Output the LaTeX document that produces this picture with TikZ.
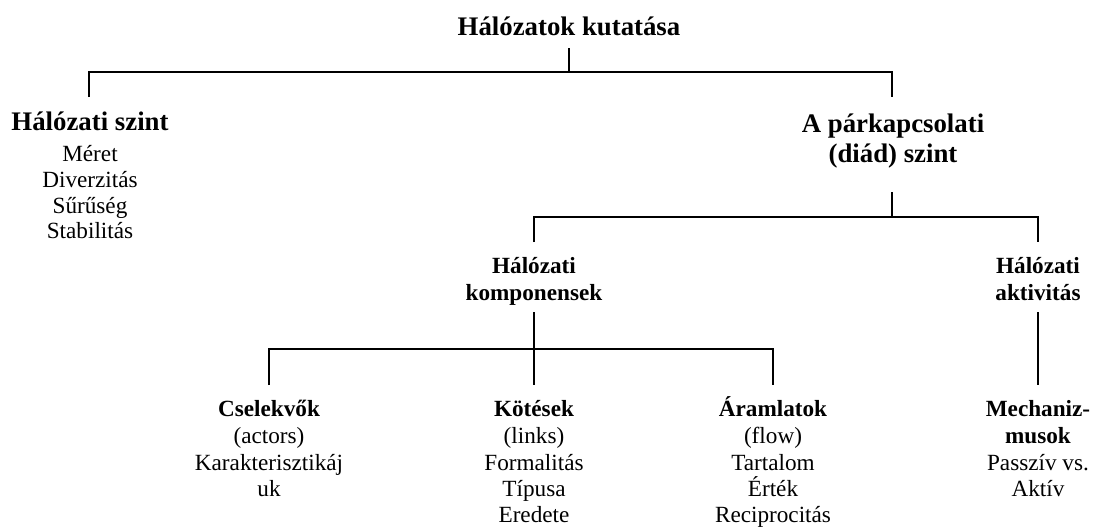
\documentclass[tikz,border=0pt]{standalone}
\usepackage{fontspec}
\setmainfont{Liberation Serif}
\begin{document}
\begin{tikzpicture}[x=1pt,y=-1pt,
  big/.style={font=\fontsize{26.8}{30}\selectfont\bfseries, anchor=base, inner sep=0pt},
  hd/.style={font=\fontsize{23.2}{26.5}\selectfont\bfseries, anchor=base, inner sep=0pt},
  it/.style={font=\fontsize{23.2}{26.5}\selectfont, anchor=base, inner sep=0pt},
  conn/.style={line width=1.8pt, line cap=butt}]
\useasboundingbox (0,0) rectangle (1095,530);
% Level 0
\node[big] (title) at (569,35) {Hálózatok kutatása};
% Level 1 left
\node[big] (hsz) at (90,130) {Hálózati szint};
\node[it] (meret) at (90,161) {Méret};
\node[it] (div) at (90,187) {Diverzitás};
\node[it] (sur) at (90,213) {Sűrűség};
\node[it] (stab) at (90,238) {Stabilitás};
% Level 1 right
\node[big] (pk1) at (893,132) {A párkapcsolati};
\node[big] (pk2) at (893,162) {(diád) szint};
% Level 2
\node[hd] (hk1) at (534,273) {Hálózati};
\node[hd] (hk2) at (534,300) {komponensek};
\node[hd] (ha1) at (1038,273) {Hálózati};
\node[hd] (ha2) at (1038,300) {aktivitás};
% Level 3
\node[hd] (cs1) at (269,416) {Cselekvők};
\node[it] (cs2) at (269,443) {(actors)};
\node[it] (cs3) at (269,470) {Karakterisztikáj};
\node[it] (cs4) at (269,496) {uk};
\node[hd] (ko1) at (534,416) {Kötések};
\node[it] (ko2) at (534,443) {(links)};
\node[it] (ko3) at (534,470) {Formalitás};
\node[it] (ko4) at (534,496) {Típusa};
\node[it] (ko5) at (534,522) {Eredete};
\node[hd] (ar1) at (773,416) {Áramlatok};
\node[it] (ar2) at (773,443) {(flow)};
\node[it] (ar3) at (773,470) {Tartalom};
\node[it] (ar4) at (773,496) {Érték};
\node[it] (ar5) at (773,522) {Reciprocitás};
\node[hd] (me1) at (1038,416) {Mechaniz-};
\node[hd] (me2) at (1038,443) {musok};
\node[it] (me3) at (1038,470) {Passzív vs.};
\node[it] (me4) at (1038,496) {Aktív};
% connector points
\coordinate (t0) at (569,48);
\coordinate (t1) at (569,72);
\coordinate (bl) at (89,72);
\coordinate (br) at (892,72);
\coordinate (bl2) at (89,97);
\coordinate (br2) at (892,97);
\coordinate (d0) at (892,192);
\coordinate (d1) at (892,217);
\coordinate (dl) at (534,217);
\coordinate (dr) at (1038,217);
\coordinate (dl2) at (534,242);
\coordinate (dr2) at (1038,242);
\coordinate (k0) at (534,312);
\coordinate (k1) at (534,349);
\coordinate (kl) at (269,349);
\coordinate (kr) at (773,349);
\coordinate (kl2) at (269,385);
\coordinate (km2) at (534,385);
\coordinate (kr2) at (773,385);
\coordinate (a0) at (1038,312);
\coordinate (a2) at (1038,385);
% connectors
\draw[conn] (t0) -- (t1);
\draw[conn] (bl2) -- (bl) -- (br) -- (br2);
\draw[conn] (d0) -- (d1);
\draw[conn] (dl2) -- (dl) -- (dr) -- (dr2);
\draw[conn] (k0) -- (km2);
\draw[conn] (kl2) -- (kl) -- (kr) -- (kr2);
\draw[conn] (a0) -- (a2);
\end{tikzpicture}
\end{document}
